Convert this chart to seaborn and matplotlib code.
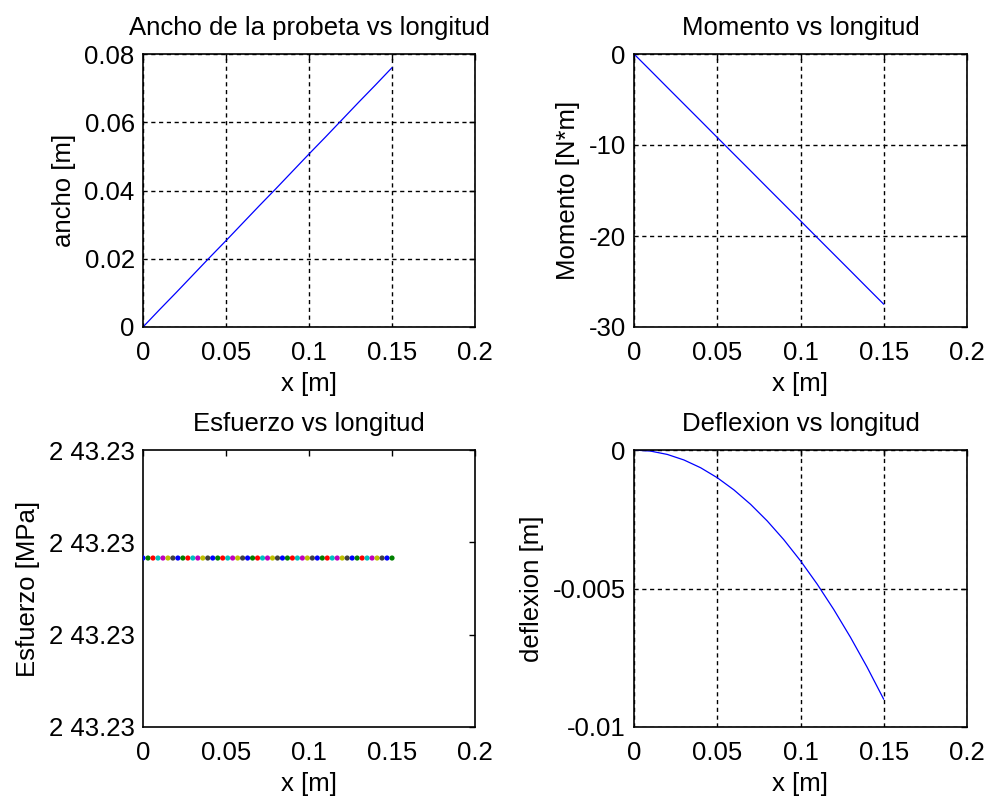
import numpy as np
import pandas as pd
import seaborn as sns
import matplotlib.pyplot as plt

# valores
x_pts = [0.0, 0.01, 0.02, 0.03, 0.04, 0.05, 0.06, 0.07, 0.08, 0.09, 0.10, 0.11, 0.12, 0.13, 0.14, 0.15]
ancho = [0.0, 0.0051, 0.0101, 0.0152, 0.0203, 0.0253, 0.0304, 0.0355, 0.0405, 0.0456, 0.0507, 0.0557, 0.0608, 0.0659, 0.0709, 0.0760]
momento = [0.0, -1.83, -3.67, -5.50, -7.33, -9.17, -11.0, -12.83, -14.67, -16.5, -18.33, -20.17, -22.0, -23.83, -25.67, -27.5]
deflexion = [0.0, -0.00004, -0.00016, -0.00036, -0.00064, -0.00100, -0.00144, -0.00196, -0.00256, -0.00324, -0.00400, -0.00484, -0.00576, -0.00676, -0.00784, -0.00900]

x_esf = [0.0, 0.003, 0.006, 0.009, 0.012, 0.015, 0.018, 0.021, 0.024, 0.027,
         0.030, 0.033, 0.036, 0.039, 0.042, 0.045, 0.048, 0.051, 0.054, 0.057,
         0.060, 0.063, 0.066, 0.069, 0.072, 0.075, 0.078, 0.081, 0.084, 0.087,
         0.090, 0.093, 0.096, 0.099, 0.102, 0.105, 0.108, 0.111, 0.114, 0.117,
         0.120, 0.123, 0.126, 0.129, 0.132, 0.135, 0.138, 0.141, 0.144, 0.147, 0.150]
esfuerzo = [243.230083] * len(x_esf)
esf_ticks = [243.2299, 243.2300, 243.2301, 243.2302]
esf_ticklabels = ['2 43.23', '2 43.23', '2 43.23', '2 43.23']

matlab_colors = ['#0000ff', '#008000', '#ff0000', '#00bfbf', '#bf00bf', '#bfbf00', '#404040']

sns.set_style('white')
plt.rcParams['font.family'] = ['Liberation Sans', 'DejaVu Sans']
plt.rcParams['text.color'] = 'black'
plt.rcParams['axes.labelcolor'] = 'black'
plt.rcParams['xtick.color'] = 'black'
plt.rcParams['ytick.color'] = 'black'
FS = 18.5

fig = plt.figure(figsize=(9.93, 7.98), dpi=100)
W, H = 993, 798
def add_ax(x0, y0, x1, y1):
    return fig.add_axes([x0 / W, 1 - y1 / H, (x1 - x0) / W, (y1 - y0) / H])

ax1 = add_ax(143, 54, 475, 327)
ax2 = add_ax(634, 54, 967, 327)
ax3 = add_ax(143, 450, 475, 727)
ax4 = add_ax(634, 450, 967, 727)

df = pd.DataFrame({'x': x_pts, 'ancho': ancho, 'momento': momento, 'deflexion': deflexion})
sns.lineplot(data=df, x='x', y='ancho', ax=ax1, color='blue', linewidth=0.9)
sns.lineplot(data=df, x='x', y='momento', ax=ax2, color='blue', linewidth=0.9)
sns.lineplot(data=df, x='x', y='deflexion', ax=ax4, color='blue', linewidth=0.9)

df_esf = pd.DataFrame({'x': x_esf, 'esfuerzo': esfuerzo,
                       'idx': [str(i) for i in range(len(x_esf))]})
pal = [matlab_colors[i % len(matlab_colors)] for i in range(len(x_esf))]
sns.scatterplot(data=df_esf, x='x', y='esfuerzo', hue='idx', palette=pal, ax=ax3,
                s=14, marker='o', edgecolor=None, linewidth=0, legend=False, zorder=3)

for ax in (ax1, ax2, ax3, ax4):
    ax.set_xlim(0, 0.2)
    ax.set_xticks([0, 0.05, 0.1, 0.15, 0.2])
    ax.set_xticklabels(['0', '0.05', '0.1', '0.15', '0.2'])
    ax.set_xlabel('x [m]', fontsize=FS, labelpad=5)
    ax.tick_params(direction='in', length=4, width=1, top=True, right=True,
                   labelsize=FS, pad=6, color='black', labelcolor='black')
    ax.tick_params(axis='x', pad=10)
    for s in ax.spines.values():
        s.set_color('black')
        s.set_linewidth(1.2)

ax1.set_ylim(0, 0.08)
ax1.set_yticks([0, 0.02, 0.04, 0.06, 0.08])
ax1.set_yticklabels(['0', '0.02', '0.04', '0.06', '0.08'])
ax1.set_ylabel('ancho [m]', fontsize=FS, labelpad=6)
ax1.set_title('Ancho de la probeta vs longitud', fontsize=FS, pad=14)

ax2.set_ylim(-30, 0)
ax2.set_yticks([-30, -20, -10, 0])
ax2.set_yticklabels(['-30', '-20', '-10', '0'])
ax2.set_ylabel('Momento [N*m]', fontsize=FS, labelpad=6)
ax2.set_title('Momento vs longitud', fontsize=FS, pad=14)

ax3.set_ylim(esf_ticks[0], esf_ticks[-1])
ax3.set_yticks(esf_ticks)
ax3.set_yticklabels(esf_ticklabels)
ax3.set_ylabel('Esfuerzo [MPa]', fontsize=FS, labelpad=6)
ax3.set_title('Esfuerzo vs longitud', fontsize=FS, pad=14)

ax4.set_ylim(-0.01, 0)
ax4.set_yticks([-0.01, -0.005, 0])
ax4.set_yticklabels(['-0.01', '-0.005', '0'])
ax4.set_ylabel('deflexion [m]', fontsize=FS, labelpad=6)
ax4.set_title('Deflexion vs longitud', fontsize=FS, pad=14)

for ax in (ax1, ax2, ax4):
    ax.grid(True, color='black', linestyle=(0, (3, 2.6)), linewidth=1.0)

plt.savefig('out.png', dpi=100, facecolor='white')
